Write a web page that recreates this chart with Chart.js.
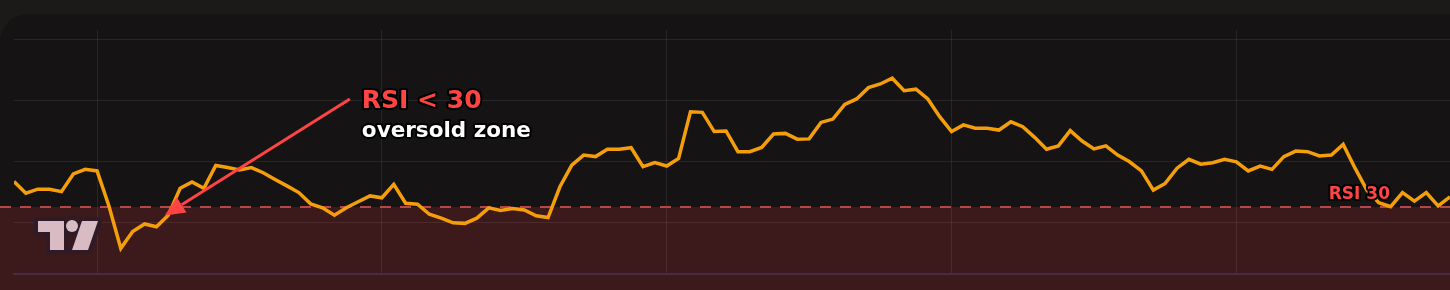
<!DOCTYPE html>
<html>
<head>
<meta charset="utf-8">
<script src="https://cdn.jsdelivr.net/npm/chart.js@4"></script>
<style>
  html, body { margin: 0; padding: 0; background: #1c1a19; width: 1450px; height: 290px; overflow: hidden; }
  .panel { position: absolute; left: 0; top: 14px; width: 1450px; height: 276px; background: #151313; border-top-left-radius: 28px; }
  #rsiChart { position: absolute; left: 0; top: 0; }
</style>
</head>
<body>
<div class="panel"></div>
<canvas id="rsiChart" width="1450" height="290"></canvas>
<script>
/* RSI panel with oversold zone */

// RSI readings, one per bar
const rsiValues = [
  38.3, 34.5, 35.8, 35.8, 35.0, 40.8, 42.3, 41.8, 30.3, 16.4,
  21.9, 24.4, 23.5, 27.3, 36.1, 38.2, 36.1, 43.6, 42.9, 42.1,
  42.9, 41.2, 39.0, 36.9, 34.7, 31.0, 29.7, 27.3, 29.7, 31.7,
  33.6, 33.0, 37.4, 31.2, 30.9, 27.6, 26.3, 24.8, 24.6, 26.3,
  29.7, 28.8, 29.5, 29.0, 27.1, 26.5, 36.6, 43.7, 47.0, 46.5,
  48.9, 48.9, 49.4, 43.2, 44.5, 43.4, 45.9, 61.2, 61.0, 54.7,
  54.9, 48.1, 48.1, 49.5, 53.9, 54.1, 52.2, 52.3, 57.7, 58.8,
  63.6, 65.4, 69.1, 70.3, 72.2, 68.1, 68.6, 65.4, 59.6, 54.7,
  56.9, 55.8, 55.8, 55.2, 57.9, 56.3, 52.8, 48.9, 50.0, 55.0,
  51.6, 49.0, 50.0, 47.0, 44.8, 41.8, 35.5, 37.7, 42.7, 45.6,
  44.0, 44.5, 45.6, 44.8, 41.8, 43.4, 42.3, 46.5, 48.3, 48.1,
  46.7, 47.0, 50.5, 42.7, 35.5, 31.4, 30.1, 34.7, 31.9, 34.7,
  30.3, 33.3
];
const barIndex = rsiValues.map((_, i) => i);

// grid positions (bar index / RSI value)
const xGridBars = [7, 31, 55, 79, 103];
const yGridValues = [25, 45, 65, 85];
const oversoldLevel = 30;

// annotation anchors in data units
const arrowFrom = { x: 28.3, y: 65.4 };
const arrowTo = { x: 12.7, y: 27.2 };

const zonePlugin = {
  id: 'zone',
  beforeDraw(chart) {
    const c = chart.ctx, y = chart.scales.y.getPixelForValue(oversoldLevel);
    c.save();
    c.fillStyle = '#3c1a1b';
    c.fillRect(0, y, chart.width, chart.height - y);
    c.restore();
  },
  beforeDatasetsDraw(chart) {
    const c = chart.ctx, y = chart.scales.y.getPixelForValue(oversoldLevel);
    c.save();
    c.strokeStyle = '#b5464a';
    c.lineWidth = 2;
    c.setLineDash([11, 9]);
    c.beginPath();
    c.moveTo(0, y);
    c.lineTo(chart.width, y);
    c.stroke();
    c.restore();
  }
};

function outlinedText(c, text, x, y, font, color) {
  c.font = font;
  c.lineJoin = 'round';
  c.lineWidth = 4;
  c.strokeStyle = '#000';
  c.strokeText(text, x, y);
  c.fillStyle = color;
  c.fillText(text, x, y);
}

function drawLogo(c, ox, oy) {
  const shapes = [
    () => { c.moveTo(ox, oy); c.lineTo(ox + 26, oy); c.lineTo(ox + 26, oy + 29); c.lineTo(ox + 12, oy + 29); c.lineTo(ox + 12, oy + 11); c.lineTo(ox, oy + 11); c.closePath(); },
    () => { c.moveTo(ox + 40, oy + 5); c.arc(ox + 34, oy + 5, 6, 0, Math.PI * 2); },
    () => { c.moveTo(ox + 44, oy); c.lineTo(ox + 60, oy); c.lineTo(ox + 50, oy + 29); c.lineTo(ox + 34, oy + 29); c.closePath(); }
  ];
  c.save();
  c.lineJoin = 'round';
  c.lineWidth = 8;
  c.strokeStyle = '#2e1b27';
  shapes.forEach(s => { c.beginPath(); s(); c.stroke(); });
  c.fillStyle = '#d8bbc3';
  shapes.forEach(s => { c.beginPath(); s(); c.fill(); });
  c.restore();
}

const notesPlugin = {
  id: 'notes',
  afterDraw(chart) {
    const c = chart.ctx, xs = chart.scales.x, ys = chart.scales.y;
    const sx = xs.getPixelForValue(arrowFrom.x), sy = ys.getPixelForValue(arrowFrom.y);
    const tx = xs.getPixelForValue(arrowTo.x), ty = ys.getPixelForValue(arrowTo.y);
    const ang = Math.atan2(ty - sy, tx - sx);
    const head = 20, half = 9;
    const bx = tx - head * Math.cos(ang), by = ty - head * Math.sin(ang);

    drawLogo(c, 38, 221);

    c.save();
    c.strokeStyle = '#ff4444';
    c.fillStyle = '#ff4444';
    c.lineWidth = 3;
    c.beginPath();
    c.moveTo(sx, sy);
    c.lineTo(bx, by);
    c.stroke();
    c.beginPath();
    c.moveTo(tx, ty);
    c.lineTo(bx + half * Math.sin(ang), by - half * Math.cos(ang));
    c.lineTo(bx - half * Math.sin(ang), by + half * Math.cos(ang));
    c.closePath();
    c.fill();

    c.textAlign = 'left';
    c.textBaseline = 'alphabetic';
    outlinedText(c, 'RSI < 30', sx + 12, sy + 9, 'bold 25px "DejaVu Sans"', '#ff4444');
    outlinedText(c, 'oversold zone', sx + 12, sy + 38, 'bold 21.5px "DejaVu Sans"', '#ffffff');

    const ly = ys.getPixelForValue(oversoldLevel);
    c.textAlign = 'right';
    outlinedText(c, 'RSI 30', chart.chartArea.right - 60, ly - 8, 'bold 17px "DejaVu Sans"', '#ff4444');
    c.restore();
  }
};

new Chart(document.getElementById('rsiChart').getContext('2d'), {
  type: 'line',
  data: {
    labels: barIndex,
    datasets: [{
      data: rsiValues,
      borderColor: '#f59e0b',
      borderWidth: 3.5,
      pointRadius: 0,
      tension: 0,
      fill: false
    }]
  },
  options: {
    responsive: false,
    animation: false,
    devicePixelRatio: 1,
    layout: { padding: { left: 14, top: 30, right: 0, bottom: 16 } },
    plugins: { legend: { display: false }, tooltip: { enabled: false } },
    scales: {
      x: {
        type: 'linear',
        min: 0, max: rsiValues.length - 1,
        afterBuildTicks: s => { s.ticks = xGridBars.map(v => ({ value: v })); },
        afterFit: s => { s.height = 0; },
        ticks: { display: false },
        grid: { color: 'rgba(255,255,255,0.08)', drawTicks: false },
        border: { display: true, color: '#4a2c40', width: 2 }
      },
      y: {
        min: 8, max: 88,
        afterBuildTicks: s => { s.ticks = yGridValues.map(v => ({ value: v })); },
        afterFit: s => { s.width = 0; },
        ticks: { display: false },
        grid: { color: 'rgba(255,255,255,0.08)', drawTicks: false },
        border: { display: false }
      }
    }
  },
  plugins: [zonePlugin, notesPlugin]
});
</script>
</body>
</html>
